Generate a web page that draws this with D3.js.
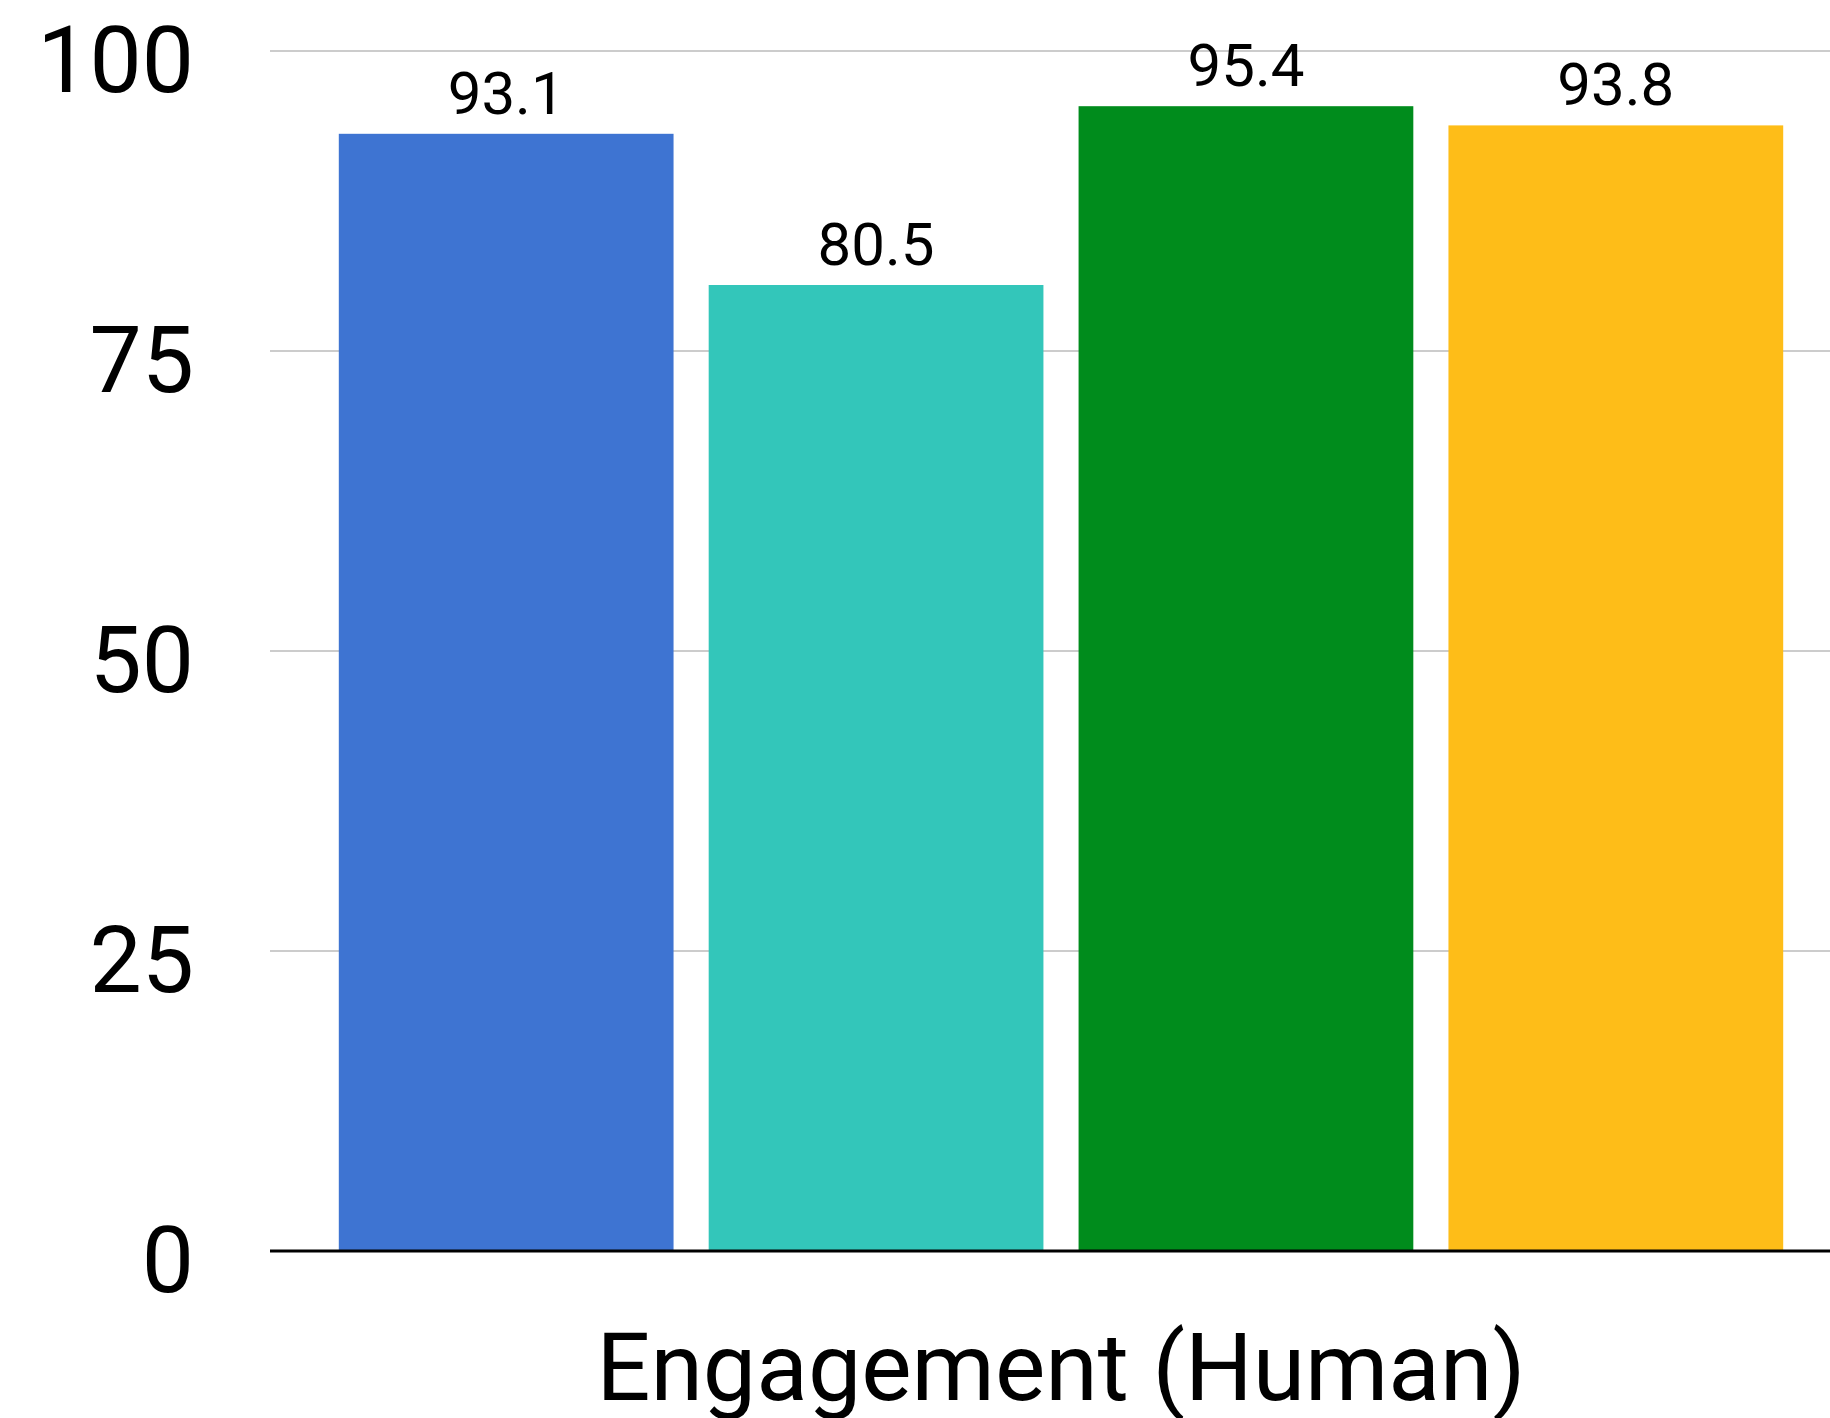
<!DOCTYPE html>
<html>
<head>
<meta charset="utf-8">
<script src="https://cdn.jsdelivr.net/npm/d3@7"></script>
<style>
  body { margin: 0; background: #fff; }
  text { font-family: Roboto, "Liberation Sans", sans-serif; fill: #000; }
</style>
</head>
<body>
<div id="chart"></div>
<script>
// data
var models = ["A", "B", "C", "D"];
var scores = [93.1, 80.5, 95.4, 93.8];
var colors = ["#3e74d2", "#33c6ba", "#008c1c", "#febd18"];
var yTicks = [0, 25, 50, 75, 100];
var xTitle = "Engagement (Human)";

var width = 1830;
var height = 1418;

var svg = d3.select("#chart")
  .append("svg")
  .attr("width", width)
  .attr("height", height);

// plot runs a little past the right edge, like the original crop
var x = d3.scaleBand()
  .domain(models)
  .range([270, 1852])
  .paddingInner(0.095)
  .paddingOuter(0.186);

var y = d3.scaleLinear()
  .domain([0, 100])
  .range([1251, 51]);

// gridlines
svg.append("g")
  .selectAll("line")
  .data(yTicks.filter(d => d > 0))
  .enter()
  .append("line")
  .attr("x1", 270)
  .attr("x2", width)
  .attr("y1", d => y(d))
  .attr("y2", d => y(d))
  .attr("stroke", "#cccccc")
  .attr("stroke-width", 2);

// y tick labels
var yAxis = d3.axisLeft(y).tickValues(yTicks).tickSize(0).tickPadding(0);
var yg = svg.append("g")
  .attr("transform", "translate(194,0)")
  .call(yAxis);
yg.select(".domain").remove();
yg.selectAll("text")
  .attr("font-size", 93)
  .attr("dy", "0.43em")
  .attr("fill", "#000");

// bars
svg.append("g")
  .selectAll("rect")
  .data(scores)
  .enter()
  .append("rect")
  .attr("x", (d, i) => x(models[i]))
  .attr("y", d => y(d))
  .attr("width", x.bandwidth())
  .attr("height", d => y(0) - y(d))
  .attr("fill", (d, i) => colors[i]);

// value labels
svg.append("g")
  .selectAll("text")
  .data(scores)
  .enter()
  .append("text")
  .attr("x", (d, i) => x(models[i]) + x.bandwidth() / 2)
  .attr("y", d => y(d) - 20)
  .attr("text-anchor", "middle")
  .attr("font-size", 60)
  .text(d => d.toFixed(1));

// baseline
svg.append("line")
  .attr("x1", 270)
  .attr("x2", width)
  .attr("y1", y(0))
  .attr("y2", y(0))
  .attr("stroke", "#000")
  .attr("stroke-width", 3);

// x title
svg.append("text")
  .attr("x", (x.range()[0] + x.range()[1]) / 2)
  .attr("y", 1400)
  .attr("text-anchor", "middle")
  .attr("font-size", 95)
  .text(xTitle);
</script>
</body>
</html>
